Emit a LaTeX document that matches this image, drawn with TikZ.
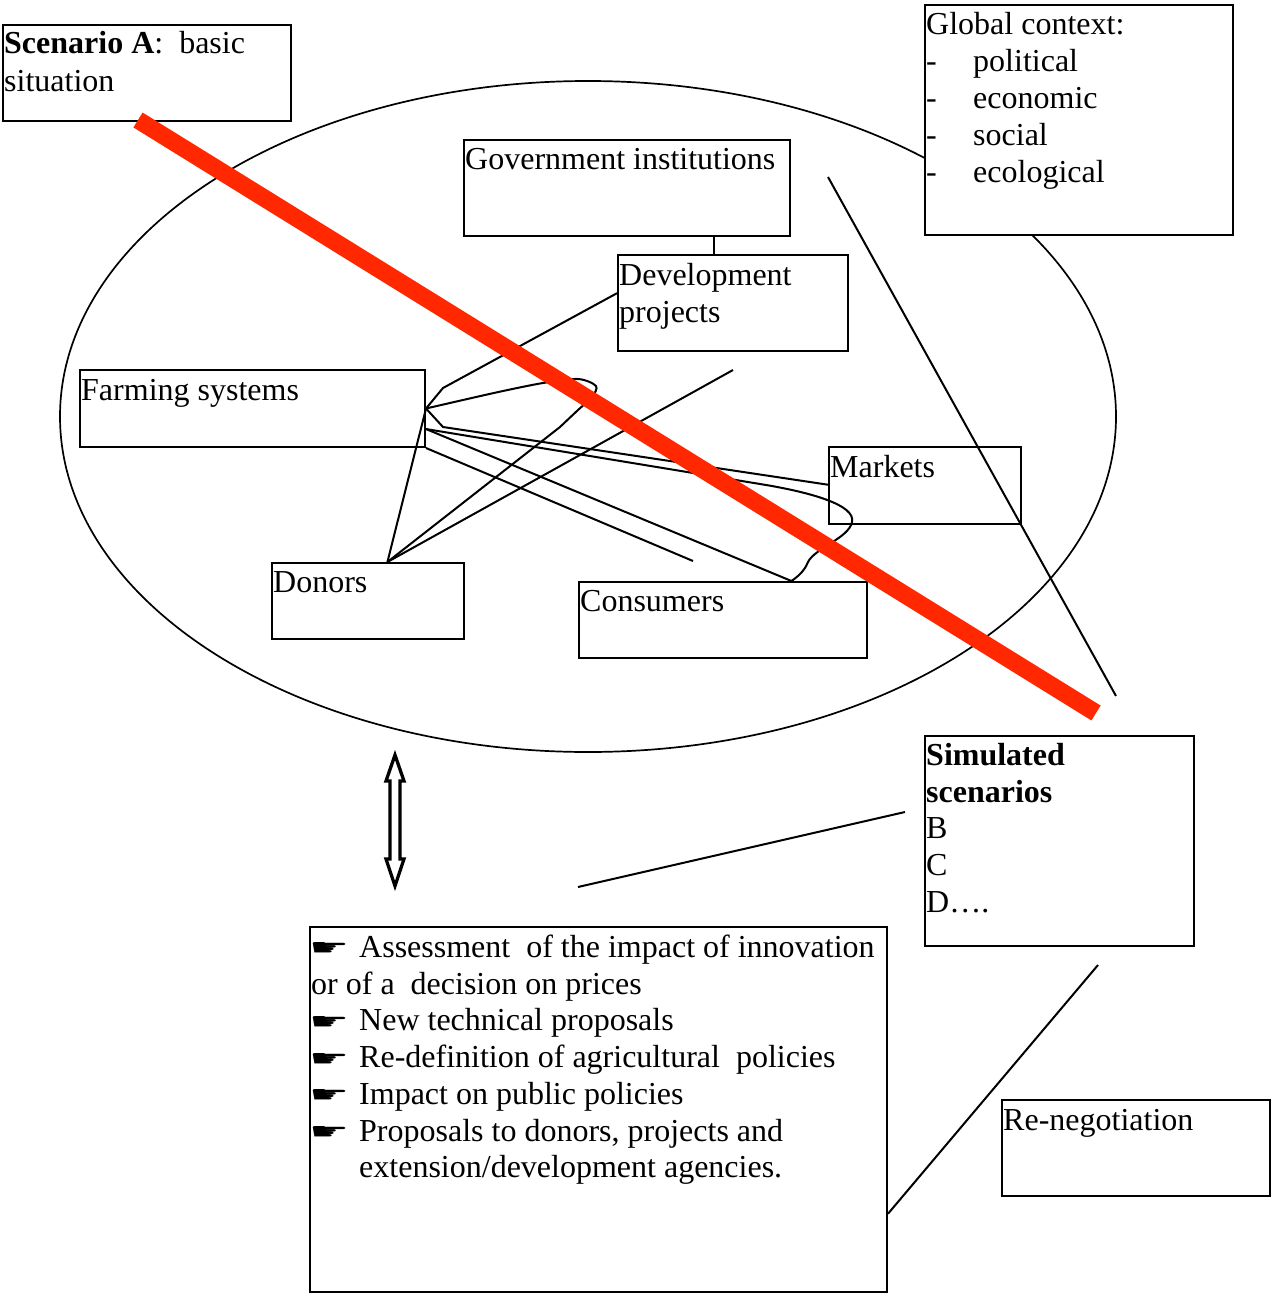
\documentclass[tikz,border=0pt]{standalone}
\usepackage{graphicx}
\usepackage{fontspec}
\setmainfont{Liberation Serif}
\newfontfamily\symfont{DejaVu Sans}
\usetikzlibrary{calc,shapes.geometric}
\definecolor{slash}{RGB}{255,40,0}
\newcommand{\hand}{{\symfont\resizebox{40pt}{13pt}{☛}}}
\begin{document}
\begin{tikzpicture}[x=1pt,y=-1pt,
  box/.style={draw,line width=2pt,rectangle,inner sep=0pt,anchor=north west},
  txt/.style={anchor=base west,inner sep=0pt,font=\fontsize{32}{37}\selectfont},
  link/.style={line width=2pt,line join=round},
  bar/.style={line width=17.5pt,draw=slash}]

\fill[white] (0,0) rectangle (1271,1298);
\useasboundingbox (0,0) rectangle (1271,1298);

% the field of actors
\node[ellipse,draw,line width=1.7pt,minimum width=1056pt,minimum height=671pt,inner sep=0pt] (field) at (588,416.5) {};

% boxes
\node[box,minimum width=288pt,minimum height=96pt] (scA) at (2,24) {};
\node[box,fill=white,minimum width=308pt,minimum height=230pt] (glob) at (924,4) {};
\node[box,minimum width=326pt,minimum height=96pt] (gov) at (463,139) {};
\node[box,minimum width=230pt,minimum height=96pt] (dev) at (617,254) {};
\node[box,minimum width=345pt,minimum height=77pt] (fs) at (79,369) {};
\node[box,minimum width=192pt,minimum height=77pt] (mkt) at (828,446) {};
\node[box,minimum width=192pt,minimum height=76pt] (don) at (271,562) {};
\node[box,minimum width=288pt,minimum height=76pt] (con) at (578,581) {};
\node[box,minimum width=269pt,minimum height=210pt] (sim) at (924,735) {};
\node[box,minimum width=577pt,minimum height=365pt] (out) at (309,926) {};
\node[box,minimum width=268pt,minimum height=96pt] (reneg) at (1001,1099) {};

% attachment points and free ends
\coordinate (dtop) at ($(don.north west)!0.6!(don.north east)$);
\coordinate (fsr) at ($(fs.north east)!0.76!(fs.south east)$);
\coordinate (devl) at ($(dev.north west)!0.4!(dev.south west)$);
\coordinate (mktl) at ($(mkt.north west)!0.49!(mkt.south west)$);
\coordinate (conA) at ($(con.north west)!0.736!(con.north east)$);
\coordinate (gvb) at ($(gov.south west)!0.764!(gov.south east)$);
\coordinate (outr) at ($(out.north east)!0.784!(out.south east)$);
\coordinate (bendD) at (443,388);
\coordinate (bendM) at (443,427);
\coordinate (d1) at (733,370);
\coordinate (fsb) at (693,561);
\coordinate (gl1) at (828,177);
\coordinate (gl2) at (1116,696);
\coordinate (s1) at (578,887);
\coordinate (s2) at (905,812);
\coordinate (r2) at (1098,965);

% connectors
\draw[link] (gvb) -- (gvb |- dev.north);
\draw[link] (fs.east) -- (bendD) -- (devl);
\draw[link] (fs.east) -- (bendM) -- (mktl);
\draw[link] plot[smooth,tension=0.5] coordinates {(fs.east) (463,400) (503,391) (543,383) (578,379) (596,386) (592,397) (578,410) (560,427)} -- (dtop);
\draw[link] (fsr) -- (760,484) .. controls (810,492) and (856,505) .. (852,522)
  .. controls (849,538) and (815,548) .. (808,562) .. controls (804,572) and (797,577) .. (conA);
\draw[link] (fsr) -- (conA);
\draw[link] (fs.south east) -- (fsb);
\draw[link] (dtop) -- (fs.east);
\draw[link] (dtop) -- (d1);
\draw[link] (gl1) -- (gl2);
\draw[link] (s1) -- (s2);
\draw[link] (outr) -- (r2);

% hollow double arrow
\draw[line width=3.3pt,line join=miter] (395,755) -- (404,781) -- (400,781) -- (400,859) -- (404,859)
  -- (395,886) -- (386,859) -- (390,859) -- (390,781) -- (386,781) -- cycle;

% texts
\node[txt] (scA1) at (4,53) {\textbf{Scenario A}:\ \ basic};
\node[txt] (scA2) at (4,91) {situation};
\node[txt] (glob0) at (926,35) {Global context:};
\foreach \w [count=\i] in {political,economic,social,ecological} {
  \node[txt] (gd\i) at (926,{35+36.75*\i}) {-};
  \node[txt] (gw\i) at (973,{35+36.75*\i}) {\w};
}
\node[txt] (govt) at (465,169) {Government institutions};
\node[txt] (dev1) at (619,285) {Development};
\node[txt] (dev2) at (619,322) {projects};
\node[txt] (fst) at (81,400) {Farming systems};
\node[txt] (mktt) at (830,477) {Markets};
\node[txt] (dont) at (273,592) {Donors};
\node[txt] (cont) at (580,611) {Consumers};
\node[txt] (sim1) at (926,765) {\textbf{Simulated}};
\node[txt] (sim2) at (926,802) {\textbf{scenarios}};
\node[txt] (sim3) at (926,838) {B};
\node[txt] (sim4) at (926,875) {C};
\node[txt] (sim5) at (926,912) {D….};
\node[txt] (rent) at (1003,1130) {Re-negotiation};

\node[txt] (h1) at (309,955) {\hand};
\node[txt] (o1) at (359,957) {Assessment\ \ of the impact of innovation};
\node[txt] (o2) at (311,994) {or of a\ \ decision on prices};
\node[txt] (h3) at (309,1029) {\hand};
\node[txt] (o3) at (359,1030.5) {New technical proposals};
\node[txt] (h4) at (309,1066) {\hand};
\node[txt] (o4) at (359,1067) {Re-definition of agricultural\ \ policies};
\node[txt] (h5) at (309,1102) {\hand};
\node[txt] (o5) at (359,1104) {Impact on public policies};
\node[txt] (h6) at (309,1139) {\hand};
\node[txt] (o6) at (359,1141) {Proposals to donors, projects and};
\node[txt] (o7) at (359,1177.5) {extension/development agencies.};

% crossing-out stroke
\draw[bar] (138,120) -- (1096,713);
\end{tikzpicture}
\end{document}
